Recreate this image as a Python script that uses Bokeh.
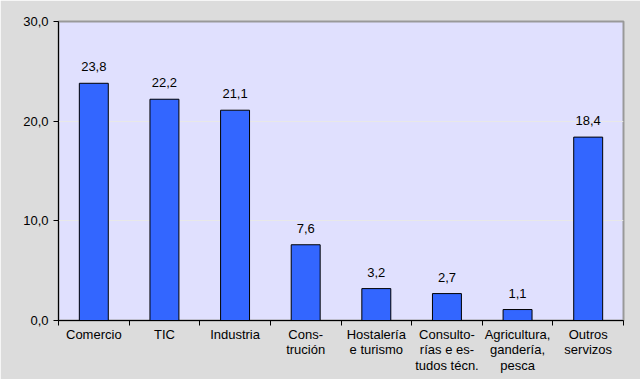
from bokeh.plotting import figure
from bokeh.models import ColumnDataSource, FixedTicker, Range1d
from bokeh.core.properties import value
from bokeh.embed import file_html
from bokeh.resources import INLINE

categories = ["Comercio", "TIC", "Industria", "Cons-\ntrución", "Hostalería\ne turismo",
              "Consulto-\nrías e es-\ntudos técn.", "Agricultura,\ngandería,\npesca", "Outros\nservizos"]
values = [23.8, 22.2, 21.1, 7.6, 3.2, 2.7, 1.1, 18.4]
value_labels = ["23,8", "22,2", "21,1", "7,6", "3,2", "2,7", "1,1", "18,4"]
y_ticks = [0, 10, 20, 30]
y_tick_labels = ["0,0", "10,0", "20,0", "30,0"]

xs = [i + 0.5 for i in range(len(categories))]
src = ColumnDataSource(dict(x=xs, top=values, lab=value_labels))

p = figure(width=640, height=379, output_backend="svg", toolbar_location=None,
           x_range=Range1d(0, len(categories)), y_range=Range1d(0, 30))
p.frame_width = 565
p.frame_height = 299
p.min_border_left = 58
p.min_border_right = 17
p.min_border_top = 21
p.min_border_bottom = 59
p.background_fill_color = "#e0e0fe"
p.border_fill_color = "#dcdcdc"
p.outline_line_color = "#999999"
p.outline_line_width = 2

p.vbar(x="x", top="top", width=0.41, bottom=0, source=src,
       fill_color="#3366ff", line_color="black", line_width=1)
p.text(x="x", y="top", text="lab", source=src, text_align="center",
       text_baseline="bottom", y_offset=-12, text_font=value("Liberation Sans"),
       text_font_size="13px", text_color="black")

xa = p.xaxis[0]
xa.ticker = FixedTicker(ticks=xs, minor_ticks=list(range(len(categories) + 1)))
xa.major_label_overrides = {x: c for x, c in zip(xs, categories)}
xa.major_tick_out = 0
xa.major_tick_in = 0
xa.minor_tick_out = 5
xa.minor_tick_in = 0
xa.minor_tick_line_color = "black"
xa.axis_line_color = "black"
xa.major_label_standoff = 1
xa.major_label_text_font = "Liberation Sans"
xa.major_label_text_font_size = "13px"
xa.major_label_text_line_height = 1.05
xa.major_label_text_color = "black"

ya = p.yaxis[0]
ya.ticker = FixedTicker(ticks=y_ticks, minor_ticks=[])
ya.major_label_overrides = {t: l for t, l in zip(y_ticks, y_tick_labels)}
ya.major_tick_out = 5
ya.major_tick_in = 0
ya.major_tick_line_color = "black"
ya.axis_line_color = "black"
ya.major_label_standoff = 5
ya.major_label_text_font = "Liberation Sans"
ya.major_label_text_font_size = "13px"
ya.major_label_text_color = "black"

p.xgrid.grid_line_color = None
p.ygrid.grid_line_color = "#e8e8e8"
p.ygrid.ticker = FixedTicker(ticks=[10, 20])

open("out.html", "w").write(file_html(p, INLINE))
